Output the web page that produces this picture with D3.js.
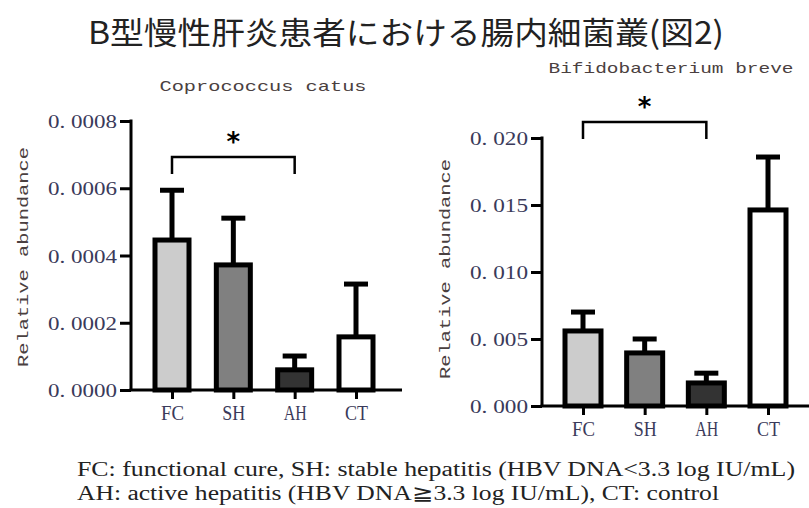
<!DOCTYPE html>
<html><head><meta charset="utf-8">
<script src="https://cdn.jsdelivr.net/npm/d3@7"></script>
<style>body{margin:0;background:#fff;}svg{display:block;}</style>
</head><body>
<svg id="c" width="809" height="508"></svg>
<script>
const categories = ["FC","SH","AH","CT"];
const fills = ["#cccccc","#808080","#333333","#ffffff"];
const coproMean = [0.000446,0.000372,0.000060,0.000158];
const coproErr  = [0.000600,0.000517,0.000107,0.000321];
const coproTicks = [0,0.0002,0.0004,0.0006,0.0008];
const coproTickLabels = ["0. 0000","0. 0002","0. 0004","0. 0006","0. 0008"];
const bifiMean = [0.00560,0.00396,0.00172,0.01463];
const bifiErr  = [0.00716,0.00515,0.00260,0.01873];
const bifiTicks = [0,0.005,0.010,0.015,0.020];
const bifiTickLabels = ["0. 000","0. 005","0. 010","0. 015","0. 020"];
const mainTitle = "B型慢性肝炎患者における腸内細菌叢(図2)";
const footLines = ["FC: functional cure, SH: stable hepatitis (HBV DNA<3.3 log IU/mL)",
                   "AH: active hepatitis (HBV DNA≧3.3 log IU/mL), CT: control"];

const svg = d3.select("#c");
const mono = "'Liberation Mono','DejaVu Sans Mono',monospace";
const serif = "'Liberation Serif','DejaVu Serif',serif";

svg.append("text").attr("x",406).attr("y",44).attr("text-anchor","middle")
  .attr("font-family","'Noto Sans CJK JP',sans-serif").attr("font-size",31).attr("fill","#222")
  .attr("textLength",636).attr("lengthAdjust","spacingAndGlyphs").text(mainTitle);

function panel(o){
  const g = svg.append("g");
  const y = d3.scaleLinear().domain([0,o.max]).range([o.y0,o.y1]);
  const x = d3.scalePoint().domain(categories).range([o.xa,o.xb]);
  categories.forEach((c,i)=>{
    const cx = x(c);
    g.append("line").attr("x1",cx).attr("x2",cx).attr("y1",y(o.mean[i])).attr("y2",y(o.err[i]))
      .attr("stroke","#000").attr("stroke-width",5);
    g.append("line").attr("x1",cx-12).attr("x2",cx+12).attr("y1",y(o.err[i])+2).attr("y2",y(o.err[i])+2)
      .attr("stroke","#000").attr("stroke-width",5);
    g.append("rect").attr("x",cx-o.bw/2).attr("width",o.bw)
      .attr("y",y(o.mean[i])).attr("height",y(0)-y(o.mean[i]))
      .attr("fill",fills[i]).attr("stroke","#000").attr("stroke-width",5);
  });
  const ya = d3.axisLeft(y).tickValues(o.ticks).tickSize(11).tickFormat((d,i)=>o.tickLabels[i]);
  const yg = g.append("g").attr("transform",`translate(${o.ax},0)`).call(ya);
  yg.select(".domain").attr("stroke","#000").attr("stroke-width",3).attr("d",`M0,${o.y0+1}V${o.y1-1.5}`);
  yg.selectAll(".tick line").attr("stroke","#000").attr("stroke-width",3);
  yg.selectAll(".tick text").attr("font-family",serif).attr("font-size",19).attr("fill","#3a3a5a")
    .attr("x",-14).attr("dy","0.35em").attr("textLength",o.tlw).attr("lengthAdjust","spacingAndGlyphs");
  const xa = d3.axisBottom(x).tickSize(9).tickPadding(6);
  const xg = g.append("g").attr("transform",`translate(0,${o.y0})`).call(xa);
  xg.select(".domain").attr("stroke","#000").attr("stroke-width",3).attr("d",`M${o.ax-1.5},0H${o.xend}`);
  xg.selectAll(".tick line").attr("stroke","#000").attr("stroke-width",3);
  xg.selectAll(".tick text").attr("font-family",serif).attr("font-size",21).attr("fill","#3a3a5a")
    .attr("textLength",23).attr("lengthAdjust","spacingAndGlyphs");
  const bx1 = x(categories[0]), bx2 = x(categories[2]);
  g.append("path").attr("d",`M${bx1},${o.by+17}V${o.by}H${bx2}V${o.by+17}`)
    .attr("fill","none").attr("stroke","#000").attr("stroke-width",2.5);
  g.append("text").attr("x",(bx1+bx2)/2).attr("y",o.by-6).attr("text-anchor","middle")
    .attr("font-family","'DejaVu Sans',sans-serif").attr("font-weight","bold").attr("font-size",26).text("*");
  g.append("text").attr("x",o.tx).attr("y",o.ty).attr("text-anchor","middle")
    .attr("font-family",mono).attr("font-size",15).attr("fill","#4a4040")
    .attr("textLength",o.tw).attr("lengthAdjust","spacingAndGlyphs").text(o.title);
  g.append("text").attr("transform",`translate(${o.lx},${o.ly}) rotate(-90)`).attr("text-anchor","middle")
    .attr("font-family",mono).attr("font-size",15).attr("fill","#4a4040")
    .attr("textLength",220).attr("lengthAdjust","spacingAndGlyphs").text("Relative abundance");
}

panel({max:0.0008,y0:390,y1:121,xa:172,xb:356,ax:131,xend:402,bw:34,
  mean:coproMean,err:coproErr,ticks:coproTicks,tickLabels:coproTickLabels,tlw:69,
  by:157,title:"Coprococcus catus",tx:263,ty:91,tw:207,lx:28,ly:257});
panel({max:0.020,y0:406,y1:138,xa:583,xb:768,ax:542,xend:809,bw:36,
  mean:bifiMean,err:bifiErr,ticks:bifiTicks,tickLabels:bifiTickLabels,tlw:58,
  by:122,title:"Bifidobacterium breve",tx:671,ty:73,tw:245,lx:450,ly:269});

footLines.forEach((t,i)=>{
  svg.append("text").attr("x",77).attr("y",476+i*24)
    .attr("font-family",serif).attr("font-size",20).attr("fill","#222")
    .attr("textLength",i===0?718:642).attr("lengthAdjust","spacingAndGlyphs").text(t);
});
</script>
</body></html>
